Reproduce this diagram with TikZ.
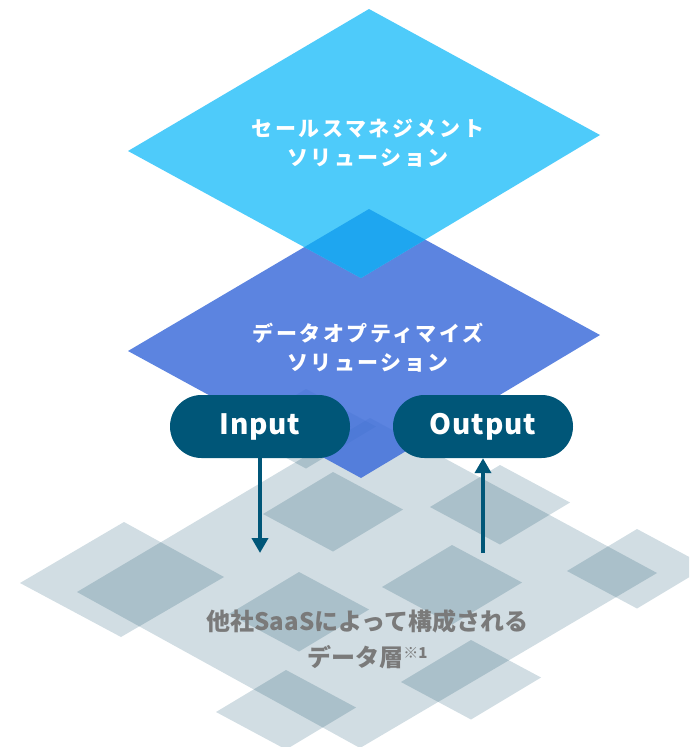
\documentclass[tikz,border=0pt]{standalone}
\usepackage{fontspec}
\usetikzlibrary{arrows.meta}
\newfontfamily\jp{Noto Sans CJK JP}
\newfontfamily\jpmsp{Noto Sans CJK JP}[LetterSpace=12]
\newfontfamily\jpmlat{Noto Sans CJK JP}[LetterSpace=3]
\definecolor{cyanTop}{RGB}{78,203,250}
\definecolor{cyanOver}{RGB}{30,166,240}
\definecolor{blueMid}{RGB}{63,110,218}
\definecolor{pillBlue}{RGB}{0,86,120}
\definecolor{layerLight}{RGB}{209,221,227}
\definecolor{layerDark}{RGB}{170,192,202}
\definecolor{textGray}{RGB}{122,122,122}
\tikzset{
  difftext/.style={text=white, align=center, font=\jpmsp\bfseries\fontsize{21}{29}\selectfont},
  pillbox/.style={fill=pillBlue, rounded corners=31.5pt, minimum width=180pt, minimum height=63pt, inner sep=0pt, text=white, font=\jpmlat\bfseries\fontsize{28}{28}\selectfont},
  flowarrow/.style={draw=pillBlue, line width=4pt, -{Triangle[width=16pt,length=15pt]}},
  layertext/.style={text=textGray, align=center, font=\jp\bfseries\fontsize{24}{36}\selectfont}
}
\begin{document}
\begin{tikzpicture}[x=1pt,y=-1pt]
\useasboundingbox (0,0) rectangle (689,747);
\clip (0,0) rectangle (689,747);
% bottom layer
\fill[layerLight] (370,418) -- (657,573) -- (360,748) -- (77,592) -- cycle;
\fill[layerLight] (124,522) -- (224,577) -- (121,637) -- (20,583) -- cycle;
\foreach \x/\y in {333/472, 299/572, 286/670, 500/465, 452/545, 637/529, 471/640, 306/389}
  \fill[layerLight] (\x,\y) -- ++(70,37.5) -- ++(-70,42) -- ++(-70,-37.5) -- cycle;
\begin{scope}
  \clip (370,418) -- (657,573) -- (360,748) -- (77,592) -- cycle;
  \fill[layerDark] (124,522) -- (224,577) -- (121,637) -- (20,583) -- cycle;
  \foreach \x/\y in {333/472, 299/572, 286/670, 500/465, 452/545, 637/529, 471/640, 306/389}
    \fill[layerDark] (\x,\y) -- ++(70,37.5) -- ++(-70,42) -- ++(-70,-37.5) -- cycle;
\end{scope}
% middle diamond
\fill[blueMid, fill opacity=0.85] (369,209) -- (600,335) -- (361,478) -- (128,351) -- cycle;
% top diamond
\fill[cyanTop] (369,9) -- (600,135) -- (361,278) -- (128,151) -- cycle;
\begin{scope}
  \clip (369,9) -- (600,135) -- (361,278) -- (128,151) -- cycle;
  \fill[cyanOver] (369,209) -- (600,335) -- (361,478) -- (128,351) -- cycle;
\end{scope}
% labels
\node[difftext] (topLabel) at (368,143.5) {セールスマネジメント\\ソリューション};
\node[difftext] (midLabel) at (368,347.5) {データオプティマイズ\\ソリューション};
\node[layertext] (layerLabel) at (367.5,639) {他社SaaSによって構成される\\データ層{\fontsize{15}{15}\selectfont\raisebox{8pt}{※1}}};
% pills
\node[pillbox] (inp) at (260,426.5) {\raisebox{-8pt}[0pt][0pt]{Input}};
\node[pillbox] (outp) at (483,426.5) {\raisebox{-8pt}[0pt][0pt]{Output}};
\coordinate (inEnd) at (260,553);
\coordinate (outStart) at (483,553);
\draw[flowarrow] (inp.south) -- (inEnd);
\draw[flowarrow] (outStart) -- (outp.south);
\end{tikzpicture}
\end{document}
